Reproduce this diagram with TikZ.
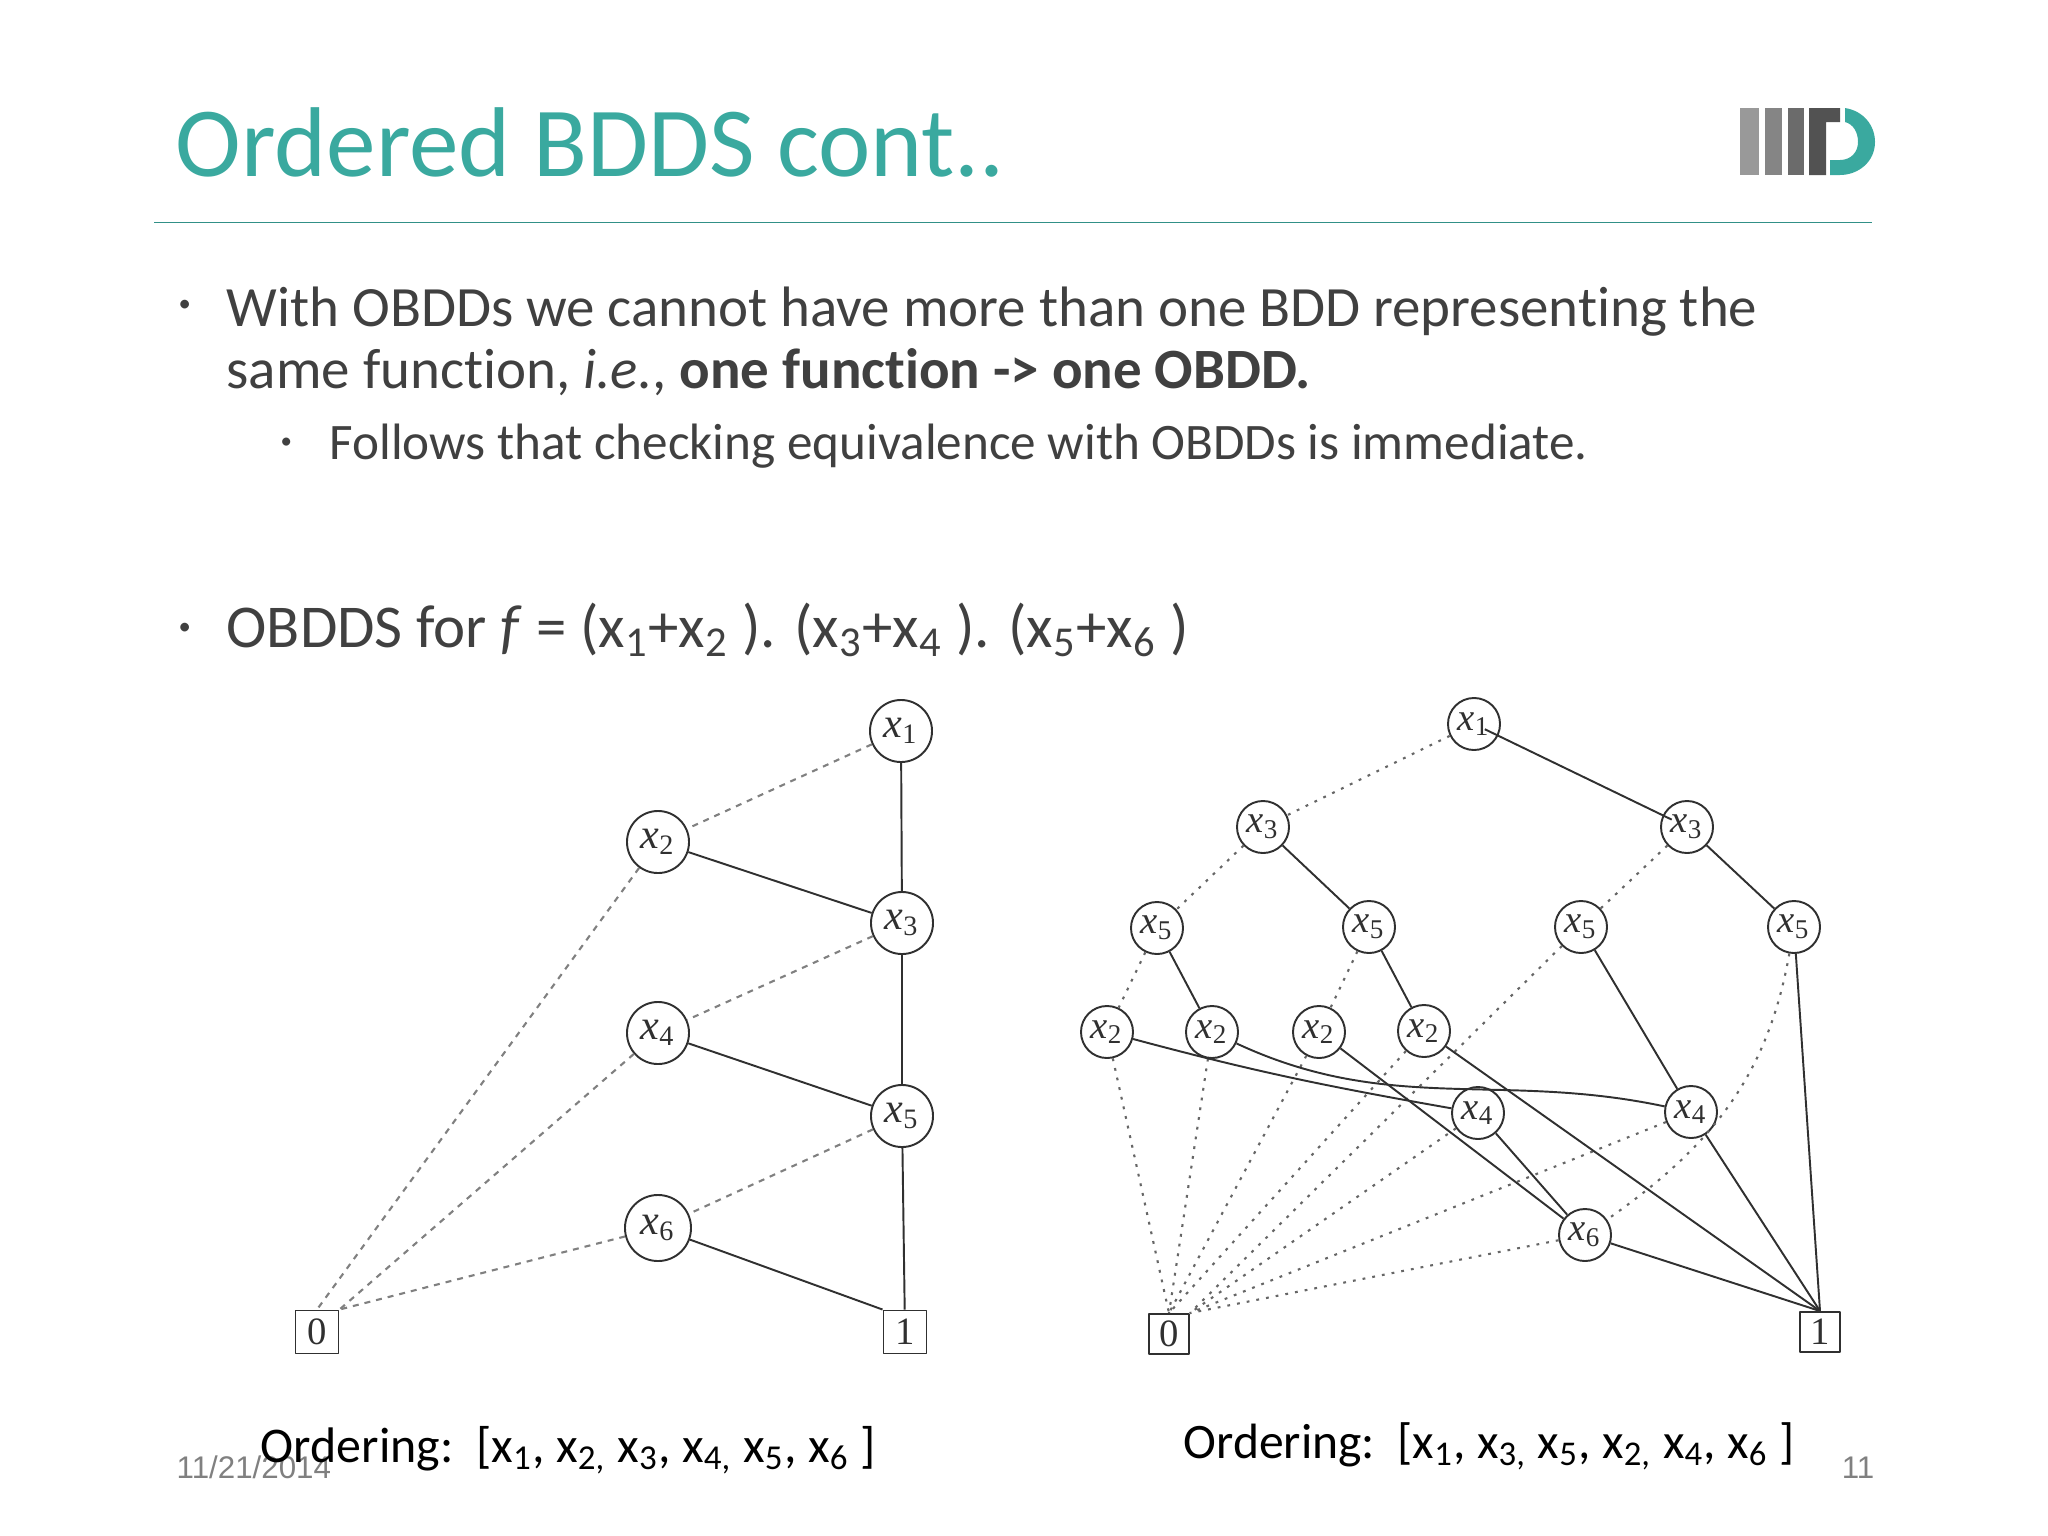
\documentclass[tikz,border=0pt]{standalone}
\usepackage{fontspec}
\setmainfont{Carlito}[RawFeature=-liga]
\newfontfamily\footfont{Liberation Sans}
\newfontfamily\scanfont{Liberation Serif}
\definecolor{tealc}{HTML}{3AA99F}
\definecolor{bodyc}{HTML}{404040}
\definecolor{footc}{HTML}{808080}
\definecolor{inkc}{HTML}{303030}
\newcommand{\lowx}[1]{\textsubscript{#1}}
\newcommand{\varx}[1]{\textit{x}\textsubscript{#1}}
\tikzset{
	bigvar/.style={draw=inkc,circle,inner sep=0pt,minimum size=.62cm,line width=.55pt,font=\scanfont\fontsize{12}{14}\selectfont,text=inkc},
	smallvar/.style={draw=inkc,circle,inner sep=0pt,minimum size=.52cm,line width=.55pt,font=\scanfont\fontsize{11}{13}\selectfont,text=inkc},
	termbox/.style={draw=inkc,rectangle,inner sep=0pt,minimum size=.43cm,line width=.55pt,font=\scanfont\fontsize{11}{13}\selectfont,text=inkc},
	oneedge/.style={draw=inkc,line width=.55pt},
	zeroleft/.style={draw=black!50,line width=.6pt,dash pattern=on 1.7pt off 1.7pt},
	zeroright/.style={draw=black!60,line width=.6pt,dash pattern=on .8pt off 2pt},
	slidetext/.style={anchor=base west,inner sep=0pt,text=bodyc},
	ordertext/.style={anchor=base west,inner sep=0pt,text=black},
	foottext/.style={inner sep=0pt,text=footc,font=\footfont\fontsize{8.9}{10}\selectfont},
}
\begin{document}
\begin{tikzpicture}[x=.01cm,y=-.01cm,line join=round]
	\useasboundingbox (0,0) rectangle (2048,1536);
	% title and rule
	\node[anchor=base west,inner sep=0pt,text=tealc,font=\fontsize{28.2}{30}\selectfont] (title) at (175,176) {Ordered BDDS cont..};
	\draw[tealc!85!black,line width=.5pt] (154,222.5)--(1872,222.5);
	% logo
	\fill[black!40] (1740,108) rectangle (1759,175);
	\fill[black!48] (1765,108) rectangle (1782,175);
	\fill[black!58] (1788,108) rectangle (1804,175);
	\fill[black!68] (1809,108)--(1840,108)--(1840,122)--(1826,122)--(1826,175)--(1809,175)--cycle;
	\fill[tealc] (1845,108) .. controls (1864,111) and (1875,126) .. (1875,142)
		.. controls (1875,162) and (1858,175) .. (1840,175) -- (1830,175) -- (1830,160) -- (1840,160)
		.. controls (1851,160) and (1858,152) .. (1858,142)
		.. controls (1858,132) and (1853,124) .. (1845,122) -- cycle;
	% text
	\node[slidetext,font=\fontsize{7}{8}\selectfont] (bulleta) at (178,311) {•};
	\node[slidetext,font=\fontsize{16.2}{20}\selectfont] (linea) at (226,326) {With OBDDs we cannot have more than one BDD representing the};
	\node[slidetext,font=\fontsize{16.2}{20}\selectfont] (lineb) at (226,388) {same function, \textit{i.e.}, \textbf{one function -> one OBDD.}};
	\node[slidetext,font=\fontsize{6.5}{8}\selectfont] (bulletb) at (280,448) {•};
	\node[slidetext,font=\fontsize{14.55}{18}\selectfont] (linec) at (329,459) {Follows that checking equivalence with OBDDs is immediate.};
	\node[slidetext,font=\fontsize{7}{8}\selectfont] (bulletc) at (178,634) {•};
	\node[slidetext,font=\fontsize{17.3}{20}\selectfont] (lined) at (226,647) {OBDDS for \textit{f} = (x\lowx{1}+x\lowx{2} ). (x\lowx{3}+x\lowx{4} ). (x\lowx{5}+x\lowx{6} )};
	% left OBDD
	\node[bigvar] (la) at (901,731) {\varx{1}};
	\node[bigvar] (lb) at (658,842) {\varx{2}};
	\node[bigvar] (lc) at (902,923) {\varx{3}};
	\node[bigvar] (ld) at (658,1033) {\varx{4}};
	\node[bigvar] (le) at (902,1116) {\varx{5}};
	\node[bigvar,minimum size=.66cm] (lf) at (658,1228) {\varx{6}};
	\node[termbox] (lzero) at (317,1332) {0};
	\node[termbox] (lone) at (905,1332) {1};
	\draw[zeroleft] (la)--(lb);
	\draw[zeroleft] (lb)--(lzero.north);
	\draw[zeroleft] (lc)--(ld);
	\draw[zeroleft] (ld)--(lzero.north east);
	\draw[zeroleft] (le)--(lf);
	\draw[zeroleft] (lf)--(lzero.north east);
	\draw[oneedge] (la)--(lc);
	\draw[oneedge] (lb)--(lc);
	\draw[oneedge] (lc)--(le);
	\draw[oneedge] (ld)--(le);
	\draw[oneedge] (le)--(lone);
	\draw[oneedge] (lf)--(lone.north west);
	% right OBDD
	\node[smallvar] (ra) at (1474,724) {\varx{1}};
	\node[smallvar] (rb) at (1263,827) {\varx{3}};
	\node[smallvar] (rc) at (1687,827) {\varx{3}};
	\node[smallvar] (rd) at (1157,928) {\varx{5}};
	\node[smallvar] (re) at (1369,927) {\varx{5}};
	\node[smallvar] (rf) at (1581,927) {\varx{5}};
	\node[smallvar] (rg) at (1794,927) {\varx{5}};
	\node[smallvar] (rh) at (1107,1032) {\varx{2}};
	\node[smallvar] (ri) at (1212,1032) {\varx{2}};
	\node[smallvar] (rj) at (1319,1032) {\varx{2}};
	\node[smallvar] (rk) at (1424,1031) {\varx{2}};
	\node[smallvar] (rl) at (1478,1113) {\varx{4}};
	\node[smallvar] (rm) at (1691,1112) {\varx{4}};
	\node[smallvar] (rn) at (1585,1235) {\varx{6}};
	\node[termbox,minimum size=.40cm] (rzero) at (1169,1334) {0};
	\node[termbox,minimum size=.40cm] (rone) at (1820,1332) {1};
	\draw[zeroright] (ra)--(rb);
	\draw[zeroright] (rb)--(rd);
	\draw[zeroright] (rc)--(rf);
	\draw[zeroright] (rd)--(rh);
	\draw[zeroright] (re)--(rj);
	\draw[zeroright] (rf)--(rzero.north east);
	\draw[zeroright] (rg) to[out=-100,in=35] (rn);
	\draw[zeroright] (rh)--(rzero.north);
	\draw[zeroright] (ri)--(rzero.north);
	\draw[zeroright] (rj)--(rzero.north);
	\draw[zeroright] (rk)--(rzero.north);
	\draw[zeroright] (rl)--(rzero.north east);
	\draw[zeroright] (rm)--(rzero.north east);
	\draw[zeroright] (rn)--(rzero.north east);
	\draw[oneedge,shorten <=-1.5mm,shorten >=-1mm] (ra)--(rc);
	\draw[oneedge] (rb)--(re);
	\draw[oneedge] (rc)--(rg);
	\draw[oneedge] (rd)--(ri);
	\draw[oneedge] (re)--(rk);
	\draw[oneedge] (rf)--(rm);
	\draw[oneedge] (rg)--(rone.north);
	\draw[oneedge] (rh) to[out=-15,in=170] (rl);
	\draw[oneedge] (ri) to[out=-25,in=168] (rm);
	\draw[oneedge] (rj)--(rn);
	\draw[oneedge] (rk)--(rone.north);
	\draw[oneedge] (rl)--(rn);
	\draw[oneedge] (rm)--(rone.north);
	\draw[oneedge] (rn)--(rone.north);
	% footer
	\node[foottext,anchor=base west] (date) at (176,1478) {11/21/2014};
	\node[foottext,anchor=base east] (page) at (1875,1478) {11};
	\node[ordertext,font=\fontsize{14.2}{16}\selectfont] (ordera) at (260,1462) {Ordering:\ \ [x\lowx{1}, x\lowx{2,} x\lowx{3}, x\lowx{4,} x\lowx{5}, x\lowx{6} ]};
	\node[ordertext,font=\fontsize{14.1}{16}\selectfont] (orderb) at (1183,1458) {Ordering:\ \ [x\lowx{1}, x\lowx{3,} x\lowx{5}, x\lowx{2,} x\lowx{4}, x\lowx{6} ]};
\end{tikzpicture}
\end{document}
